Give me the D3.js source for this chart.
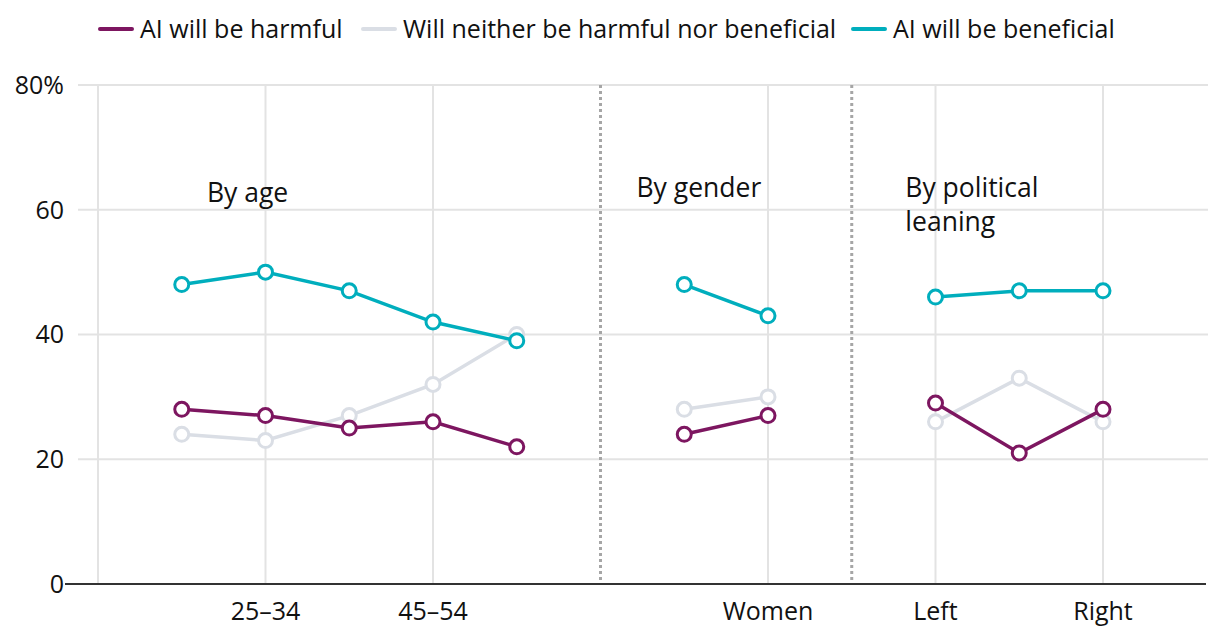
<!DOCTYPE html>
<html><head><meta charset="utf-8">
<script src="https://cdn.jsdelivr.net/npm/d3@7"></script>
<style>
body{margin:0;background:#fff;}
text{font-family:"Open Sans","Noto Sans",sans-serif;fill:#111;}
</style></head>
<body><svg id="c" width="1220" height="642"></svg>
<script>
const categories = ["18–24","25–34","35–44","45–54","55+","Men","Women","Left","Centre","Right"];
const catPos = [1,2,3,4,5,7,8,10,11,12];
const groups = [[0,5],[5,7],[7,10]];
const harmful = [28,27,25,26,22,24,27,29,21,28];
const neither = [24,23,27,32,40,28,30,26,33,26];
const beneficial = [48,50,47,42,39,48,43,46,47,47];
const seriesNames = ["AI will be harmful","Will neither be harmful nor beneficial","AI will be beneficial"];
const seriesColors = ["#7d1660","#dadee5","#00aebd"];
const yTicks = [0,20,40,60,80];
const xTickVals = [0,2,4,8,10,12];
const xTickLabels = ["","25–34","45–54","Women","Left","Right"];
const dividers = [6,9];
const annotations = [{x:1.3,y:61.2,lines:["By age"]},{x:6.43,y:62,lines:["By gender"]},{x:9.64,y:62,lines:["By political","leaning"]}];

const svg = d3.select("#c");
const x = d3.scaleLinear().domain([0,12]).range([98,1103]);
const y = d3.scaleLinear().domain([0,80]).range([584,85]);
const gridL = 78, gridR = 1208;

svg.append("g").selectAll("line").data(yTicks.filter(d=>d>0)).join("line")
  .attr("x1",gridL).attr("x2",gridR).attr("y1",d=>y(d)).attr("y2",d=>y(d))
  .attr("stroke","#e3e3e3").attr("stroke-width",2);
svg.append("g").selectAll("line").data(xTickVals).join("line")
  .attr("x1",d=>x(d)).attr("x2",d=>x(d)).attr("y1",y(80)).attr("y2",y(0))
  .attr("stroke","#e3e3e3").attr("stroke-width",2);
svg.append("g").selectAll("line").data(dividers).join("line")
  .attr("x1",d=>x(d)).attr("x2",d=>x(d)).attr("y1",y(80)).attr("y2",y(0))
  .attr("stroke","#a6a6a6").attr("stroke-width",3).attr("stroke-dasharray","3,3");
svg.append("line").attr("x1",65).attr("x2",1206).attr("y1",y(0)).attr("y2",y(0))
  .attr("stroke","#333").attr("stroke-width",2);

svg.append("g").selectAll("text").data(yTicks).join("text")
  .attr("x",64).attr("y",d=>y(d)).attr("dy","0.35em").attr("text-anchor","end")
  .attr("font-size",25).text(d=>d===80?"80%":d);
svg.append("g").selectAll("text").data(xTickVals).join("text")
  .attr("x",d=>x(d)).attr("y",611).attr("dy","0.35em").attr("text-anchor","middle")
  .attr("font-size",25).text((d,i)=>xTickLabels[i]);

annotations.forEach(a=>{
  const t = svg.append("text").attr("x",x(a.x)).attr("y",y(a.y)).attr("font-size",26.5);
  a.lines.forEach((l,i)=>t.append("tspan").attr("x",x(a.x)).attr("dy",i?34:0).text(l));
});

const allSeries = [harmful,neither,beneficial];
const order = [1,0,2];
const line = d3.line().x(d=>x(d[0])).y(d=>y(d[1]));
order.forEach(si=>{
  const vals = allSeries[si];
  const g = svg.append("g");
  groups.forEach(([a,b])=>{
    const pts = d3.range(a,b).map(i=>[catPos[i],vals[i]]);
    g.append("path").attr("d",line(pts)).attr("fill","none")
      .attr("stroke",seriesColors[si]).attr("stroke-width",3.5);
  });
  g.selectAll("circle").data(vals).join("circle")
    .attr("cx",(d,i)=>x(catPos[i])).attr("cy",d=>y(d)).attr("r",7)
    .attr("fill","#fff").attr("stroke",seriesColors[si]).attr("stroke-width",3);
});

const legX = [100,363,853];
seriesNames.forEach((n,i)=>{
  svg.append("line").attr("x1",legX[i]).attr("x2",legX[i]+32).attr("y1",29).attr("y2",29)
    .attr("stroke",seriesColors[i]).attr("stroke-width",4).attr("stroke-linecap","round");
  svg.append("text").attr("x",legX[i]+40).attr("y",29).attr("dy","0.35em")
    .attr("font-size",25).text(n);
});
</script></body></html>
